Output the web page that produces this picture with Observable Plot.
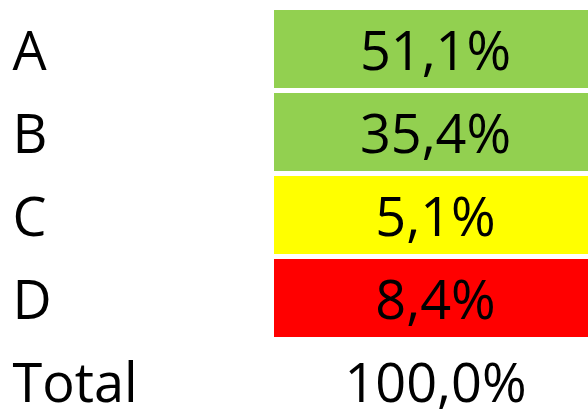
<!DOCTYPE html>
<html>
<head>
<meta charset="utf-8">
<script src="https://cdn.jsdelivr.net/npm/d3@7"></script>
<script src="https://cdn.jsdelivr.net/npm/@observablehq/plot@0.6"></script>
<style>
  html, body { margin: 0; padding: 0; background: #fff; }
</style>
</head>
<body>
<div id="chart"></div>
<script>
const categories = ["A", "B", "C", "D"];
const shares = [51.1, 35.4, 5.1, 8.4];
const cellColors = ["#92D050", "#92D050", "#FFFF00", "#FF0000"];
const totalLabel = "Total";
const totalValue = 100.0;

const fmt = v => v.toFixed(1).replace(".", ",") + "%";

const rows = categories.map((c, i) => ({row: c, value: shares[i], color: cellColors[i]}));
const allRows = [...rows, {row: totalLabel, value: totalValue, color: null}];

const chart = Plot.plot({
  width: 588,
  height: 409,
  margin: 0,
  style: {fontFamily: "'Open Sans', sans-serif", background: "#fff"},
  x: {type: "band", domain: ["label", "value"], range: [-40, 588], paddingInner: 0, paddingOuter: 0, axis: null},
  y: {type: "band", domain: allRows.map(d => d.row), range: [9, 420.5], paddingInner: 0.06, paddingOuter: 0, axis: null},
  marks: [
    Plot.cell(rows, {x: () => "value", y: "row", fill: "color"}),
    Plot.text(allRows, {x: () => "label", y: "row", text: "row", textAnchor: "start", dx: -105, dy: 3, fontSize: 54, fill: "#000"}),
    Plot.text(allRows, {x: () => "value", y: "row", text: d => fmt(d.value), dx: 4, dy: 3, fontSize: 54, fill: "#000"})
  ],
  color: {type: "identity"}
});
document.getElementById("chart").append(chart);
</script>
</body>
</html>
